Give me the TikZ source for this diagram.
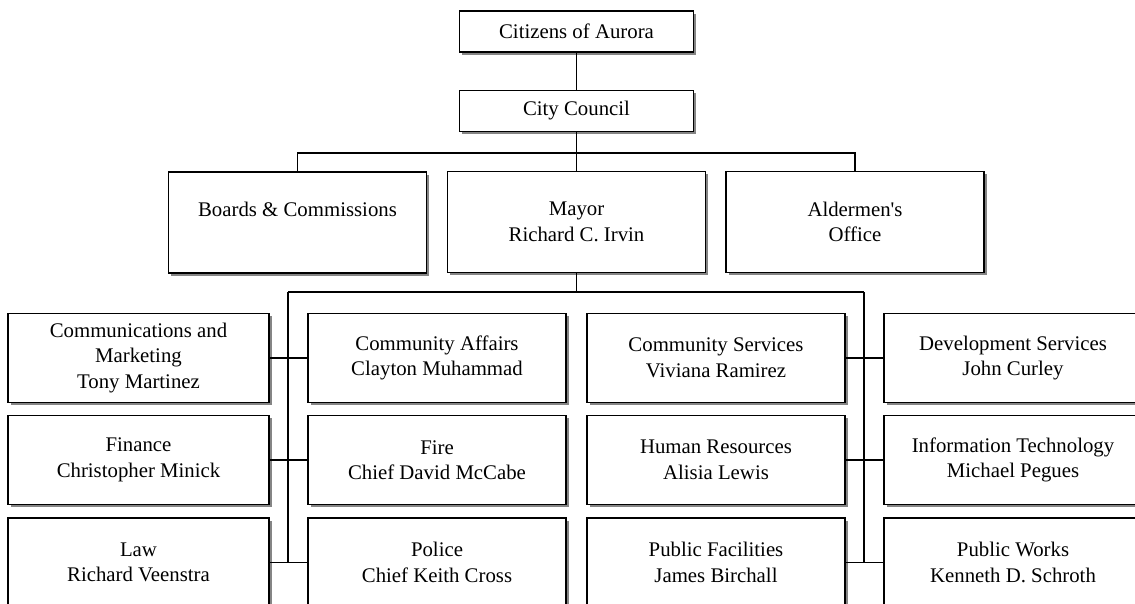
\documentclass[tikz,border=0pt]{standalone}
\usepackage{fontspec}
\setmainfont{Liberation Serif}
\usetikzlibrary{shadows}

\begin{document}
\begin{tikzpicture}[x=1pt, y=-1pt, line width=1.3pt,
  office/.style={draw, fill=white, line width=1.7pt, shape=rectangle, align=center,
    inner sep=2pt, minimum width=258pt, minimum height=89pt,
    font=\fontsize{20.8}{25.5}\selectfont,
    drop shadow={shadow xshift=2.5pt, shadow yshift=-2.5pt, fill=black!80, opacity=.6}},
  top/.style={office, minimum width=234pt, minimum height=41pt},
  head/.style={office, minimum height=101pt}]

  \useasboundingbox (0,0) rectangle (1135,603);

  \node[top] (citizens) at (576.5,31.5) {Citizens of Aurora};
  \node[top] (council) at (576.5,111) {City Council};

  \node[head] (boards) at (297.5,222.5) {Boards \& Commissions\\ \mbox{}};
  \node[head] (mayor) at (576.5,222) {Mayor\\Richard C. Irvin};
  \node[head] (aldermen) at (855,222) {Aldermen\textquotesingle s\\Office};

  % departments, four columns
  \node[office, minimum width=261pt] (comm) at (138.5,358) {Communications and\\Marketing\\Tony Martinez};
  \node[office, minimum width=261pt] (finance) at (138.5,460) {Finance\\Christopher Minick};
  \node[office, minimum width=261pt] (law) at (138.5,562.5) {Law\\Richard Veenstra};

  \node[office] (affairs) at (437,358) {Community Affairs\\Clayton Muhammad};
  \node[office] (fire) at (437,460) {Fire\\Chief David McCabe};
  \node[office] (police) at (437,562.5) {Police\\Chief Keith Cross};

  \node[office] (services) at (716,358) {Community Services\\Viviana Ramirez};
  \node[office] (hr) at (716,460) {Human Resources\\Alisia Lewis};
  \node[office] (facilities) at (716,562.5) {Public Facilities\\James Birchall};

  \node[office] (devel) at (1013,358) {Development Services\\John Curley};
  \node[office] (it) at (1013,460) {Information Technology\\Michael Pegues};
  \node[office] (works) at (1013,562.5) {Public Works\\Kenneth D. Schroth};

  \coordinate (upbus) at (576.5,153);
  \coordinate (lbus) at (288,292);
  \coordinate (rbus) at (864,292);

  \draw (citizens) -- (council);
  \draw (council.south) -- (upbus);
  \draw (boards.north) |- (upbus) -| (aldermen.north);
  \draw (mayor.north) -- (upbus);

  \draw (mayor.south) -- (mayor.south |- lbus);
  \draw (lbus) -- (rbus);
  \draw (lbus) -- (lbus |- law.east);
  \draw (rbus) -- (rbus |- works.west);

  \path
   (comm) edge (affairs)
   (finance) edge (fire)
   (law) edge (police)
   (services) edge (devel)
   (hr) edge (it)
   (facilities) edge (works);
\end{tikzpicture}
\end{document}
